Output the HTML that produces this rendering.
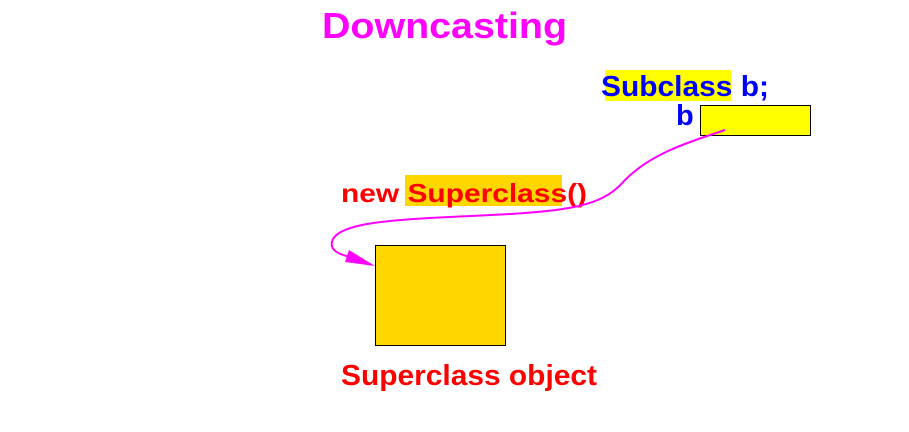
<!DOCTYPE html>
<html><head><meta charset="utf-8"><style>
html,body{margin:0;padding:0;background:#fff;}
svg{display:block;}
text{font-family:"Liberation Sans",sans-serif;font-weight:bold;}
</style></head><body>
<svg width="909" height="432" viewBox="0 0 909 432" xmlns="http://www.w3.org/2000/svg">
<text x="322" y="38" font-size="36" fill="#ff00ff" textLength="245" lengthAdjust="spacingAndGlyphs">Downcasting</text>
<rect x="605" y="70" width="126" height="31" fill="#ffff00"/>
<text x="601" y="96" font-size="29" fill="#0000ff" textLength="168" lengthAdjust="spacingAndGlyphs">Subclass b;</text>
<text x="676" y="125" font-size="29" fill="#0000ff">b</text>
<rect x="700.5" y="105.5" width="110" height="30" fill="#ffff00" stroke="#000" stroke-width="1"/>
<rect x="405" y="175" width="157" height="31" fill="#ffd700"/>
<text x="341" y="202" font-size="26" fill="#ff0000" textLength="246" lengthAdjust="spacingAndGlyphs">new Superclass()</text>
<rect x="375.5" y="245.5" width="130" height="100" fill="#ffd700" stroke="#000" stroke-width="1"/>
<text x="341" y="385" font-size="29" fill="#ff0000" textLength="256" lengthAdjust="spacingAndGlyphs">Superclass object</text>
<path d="M725,130 C680,145 650,155 625,180 C600,210 560,212 450,217 C380,220 335,225 332,242 C330,250 338,254 350,257" fill="none" stroke="#ff00ff" stroke-width="2"/>
<polygon points="375,266 349,250 345,262" fill="#ff00ff"/>
</svg>
</body></html>
